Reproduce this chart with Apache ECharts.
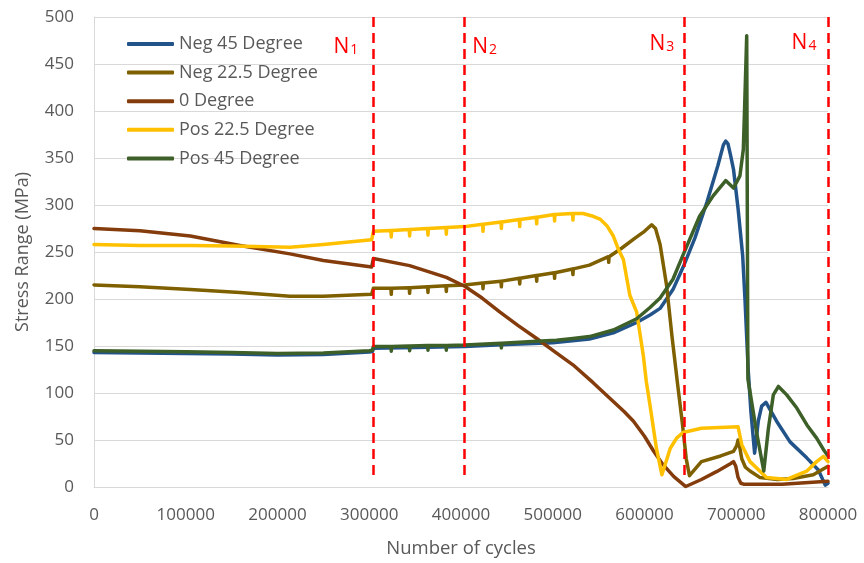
<!DOCTYPE html>
<html>
<head>
<meta charset="utf-8">
<title>Stress Range vs Number of cycles</title>
<script src="https://cdn.jsdelivr.net/npm/echarts@6/dist/echarts.min.js"></script>
<style>
  html, body { margin: 0; padding: 0; background: #ffffff; }
  #chart { width: 864px; height: 563px; }
</style>
</head>
<body>
<div id="chart"></div>
<script>
// Series names, in drawing order (later series are drawn on top)
const seriesNames = ['Neg 45 Degree', 'Neg 22.5 Degree', '0 Degree', 'Pos 22.5 Degree', 'Pos 45 Degree'];

// [cycles, stress range MPa]
const negDeg45 = [
  [0,143],[50000,142.5],[100000,142],[150000,141.5],[200000,140.5],[250000,141],[300000,143.5],
  [303500,144],[304500,147.5],[350000,148.5],[404000,149.5],[450000,151.5],[500000,153.5],
  [540000,157.5],[566000,164],[591500,175],[606000,183],[617000,190],[631000,210],[643000,236],
  [655000,265],[668000,303],[680000,342],[686000,364],[688500,368],[691000,365],[694000,352],
  [697000,338],[702000,296],[707000,246],[709500,200],[713000,125],[716000,80],[720000,36],
  [724000,70],[727700,86],[732400,90],[737000,82],[744000,70],[758600,48],[776800,31],
  [789500,18],[797000,2],[800000,4]
];

const negDeg225 = [
  [0,215],[50000,213],[105000,210],[159000,207],[213600,203],[250000,203],[302600,205],
  [303800,205.5],[304500,211.5],[323600,211.5],[324000,205],[324400,211.5],[343600,212],
  [344000,206],[344400,212],[363600,213],[364000,207],[364400,213],[383600,214],[384000,208],
  [384400,214],[404000,215],[423600,217],[424000,211],[424400,217],[443600,219],[444000,213],
  [444400,219],[463600,222],[464000,216],[464400,222],[482100,225],[482500,219],[482900,225],
  [501600,228],[502000,222],[502400,228],[521600,232],[522000,226],[522400,232],[540000,236],
  [560600,245],[561000,239],[561400,245],[575000,254],[590000,265],[600000,272],[607800,279],
  [612000,275],[617000,258],[624000,215],[630000,160],[636000,110],[641000,70],[645500,30],
  [649000,12],[662000,27],[683000,33],[697000,38],[700500,44],[702000,50],[703500,44],[706000,30],
  [710000,21],[715000,17],[726000,10],[745000,8],[762000,9],[784000,13],[800000,22]
];

const zeroDeg = [
  [0,275],[50000,272.5],[105000,267],[159000,257],[213600,248],[250000,241],[302600,234],
  [303800,234],[304500,243],[344000,235.5],[384000,223],[404000,213.6],[423000,201],
  [442500,186],[462000,172],[482500,158],[502000,144],[522000,130],[544000,111],[566000,91],
  [578000,80],[588000,70],[600000,54],[610000,38],[620000,24],[632000,11],[645000,0.5],
  [662000,8],[679000,16.6],[694000,25],[697000,27],[699500,22],[702000,10],[705000,4],
  [708000,3],[750000,3],[800000,6]
];

const posDeg225 = [
  [0,258],[50000,257],[105000,257],[150000,256.5],[213600,255],[250000,258],[302600,263],
  [303800,263.5],[304500,272],[323600,273],[324000,266],[324400,273],[343600,274],[344000,267],
  [344400,274],[363600,275],[364000,268],[364400,275],[383600,276],[384000,269],[384400,276],
  [404000,277],[423600,279.5],[424000,272],[424400,279.5],[443600,282],[444000,275],[444400,282],
  [463600,284.5],[464000,277],[464400,284.5],[482100,287],[482500,280],[482900,287],[501600,290],
  [502000,283],[502400,290],[521600,291],[522000,284],[522400,291],[533000,291],[544000,288],
  [551500,285],[559000,278],[566000,267],[571500,253],[577000,242],[584000,204],[591500,186],
  [598700,140],[602000,112],[606000,87],[613000,41],[619000,13],[628000,41],[635000,52],
  [642000,58],[662000,62.5],[702000,64],[706000,45],[715000,27],[733000,10],[755000,8],
  [769500,14],[777000,17],[787600,27],[795000,32.5],[800000,27]
];

const posDeg45 = [
  [0,145],[50000,144.5],[100000,144],[150000,143],[200000,142],[250000,142.5],[300000,145],
  [303500,145.5],[304500,149.5],[323600,149.5],[324000,144.5],[324400,149.5],[343600,150],
  [344000,145],[344400,150],[363600,150.5],[364000,145.5],[364400,150.5],[383600,150.5],
  [384000,145.5],[384400,150.5],[404000,151],[443600,153],[444000,148],[444400,153],
  [482500,155],[504000,156],[522000,158],[540000,160],[566000,167],[591500,179],[606000,191],
  [617000,201],[631000,221],[643000,249],[660000,288],[675000,310],[688500,326],[697000,318],
  [704000,331],[707700,359],[709000,400],[711400,480],[712700,115],[722000,59],[730000,17],
  [735000,62],[740400,98],[746000,107],[755000,98],[766000,84],[777000,66],[787600,52],
  [795000,40],[800000,33]
];

const seriesData = [negDeg45, negDeg225, zeroDeg, posDeg225, posDeg45];

// Reference cycle counts N1..N4 marked with dashed lines
const nCycles = [304000, 404000, 643000, 800000];
const nSubscripts = ['1', '2', '3', '4'];

// Styling
const palette = ['#22548A', '#7F6000', '#843C0C', '#FFC000', '#3D5F28'];
const nLabelOffsets = [[-27, 0], [20, 0], [-22, -3], [-24, -4]];
const textGrey = '#595959';
const gridGrey = '#D9D9D9';
const fontFamily = '"Open Sans", "Noto Sans", sans-serif';

const chart = echarts.init(document.getElementById('chart'), null, { renderer: 'canvas' });

const series = seriesNames.map((name, i) => ({
  name: name,
  type: 'line',
  data: seriesData[i],
  symbol: 'none',
  smooth: false,
  color: palette[i],
  lineStyle: { width: 3.5, color: palette[i], cap: 'round', join: 'round' },
  emphasis: { disabled: true }
}));

// Dashed marker lines and their N labels ride on the top-most series
series[series.length - 1].markLine = {
  silent: true,
  symbol: ['none', 'none'],
  label: { show: false },
  lineStyle: { color: '#FF0000', type: [10, 6], width: 2.5 },
  emphasis: { disabled: true },
  data: nCycles.map(x => [{ coord: [x, 500] }, { coord: [x, 8] }])
};
series[series.length - 1].markPoint = {
  silent: true,
  symbol: 'circle',
  symbolSize: 1,
  itemStyle: { color: 'rgba(0,0,0,0)' },
  data: nCycles.map((x, i) => ({
    coord: [x, 470],
    label: {
      show: true,
      position: 'inside',
      offset: nLabelOffsets[i],
      formatter: '{n|N}{s|' + nSubscripts[i] + '}',
      rich: {
        n: { fontSize: 21, color: '#FF0000', fontFamily: fontFamily, lineHeight: 24, verticalAlign: 'bottom' },
        s: { fontSize: 14, color: '#FF0000', fontFamily: fontFamily, lineHeight: 12, verticalAlign: 'bottom', padding: [0, 0, 0, 1] }
      }
    }
  }))
};

const option = {
  animation: false,
  backgroundColor: '#ffffff',
  grid: { left: 94, right: 36, top: 17, bottom: 74 },
  legend: {
    data: seriesNames,
    orient: 'vertical',
    left: 127,
    top: 34,
    padding: 0,
    icon: 'roundRect',
    itemWidth: 47,
    itemHeight: 4,
    itemGap: 8.6,
    selectedMode: false,
    textStyle: { color: textGrey, fontSize: 18, fontFamily: fontFamily, lineHeight: 20 }
  },
  xAxis: {
    type: 'value',
    min: 0,
    max: 800000,
    interval: 100000,
    name: 'Number of cycles',
    nameLocation: 'middle',
    nameGap: 52,
    nameTextStyle: { color: textGrey, fontSize: 18.5, fontFamily: fontFamily },
    axisLine: { show: true, lineStyle: { color: gridGrey, width: 1 } },
    axisTick: { show: false },
    splitLine: { show: false },
    axisLabel: { color: textGrey, fontSize: 17, fontFamily: fontFamily, margin: 20, formatter: v => String(v) }
  },
  yAxis: {
    type: 'value',
    min: 0,
    max: 500,
    interval: 50,
    name: 'Stress Range (MPa)',
    nameLocation: 'middle',
    nameRotate: 90,
    nameGap: 62,
    nameTextStyle: { color: textGrey, fontSize: 18, fontFamily: fontFamily },
    axisLine: { show: true, lineStyle: { color: gridGrey, width: 1 } },
    axisTick: { show: false },
    splitLine: { show: true, lineStyle: { color: gridGrey, width: 1 } },
    axisLabel: { color: textGrey, fontSize: 17, fontFamily: fontFamily, margin: 20 }
  },
  series: series
};

chart.setOption(option);
</script>
</body>
</html>
